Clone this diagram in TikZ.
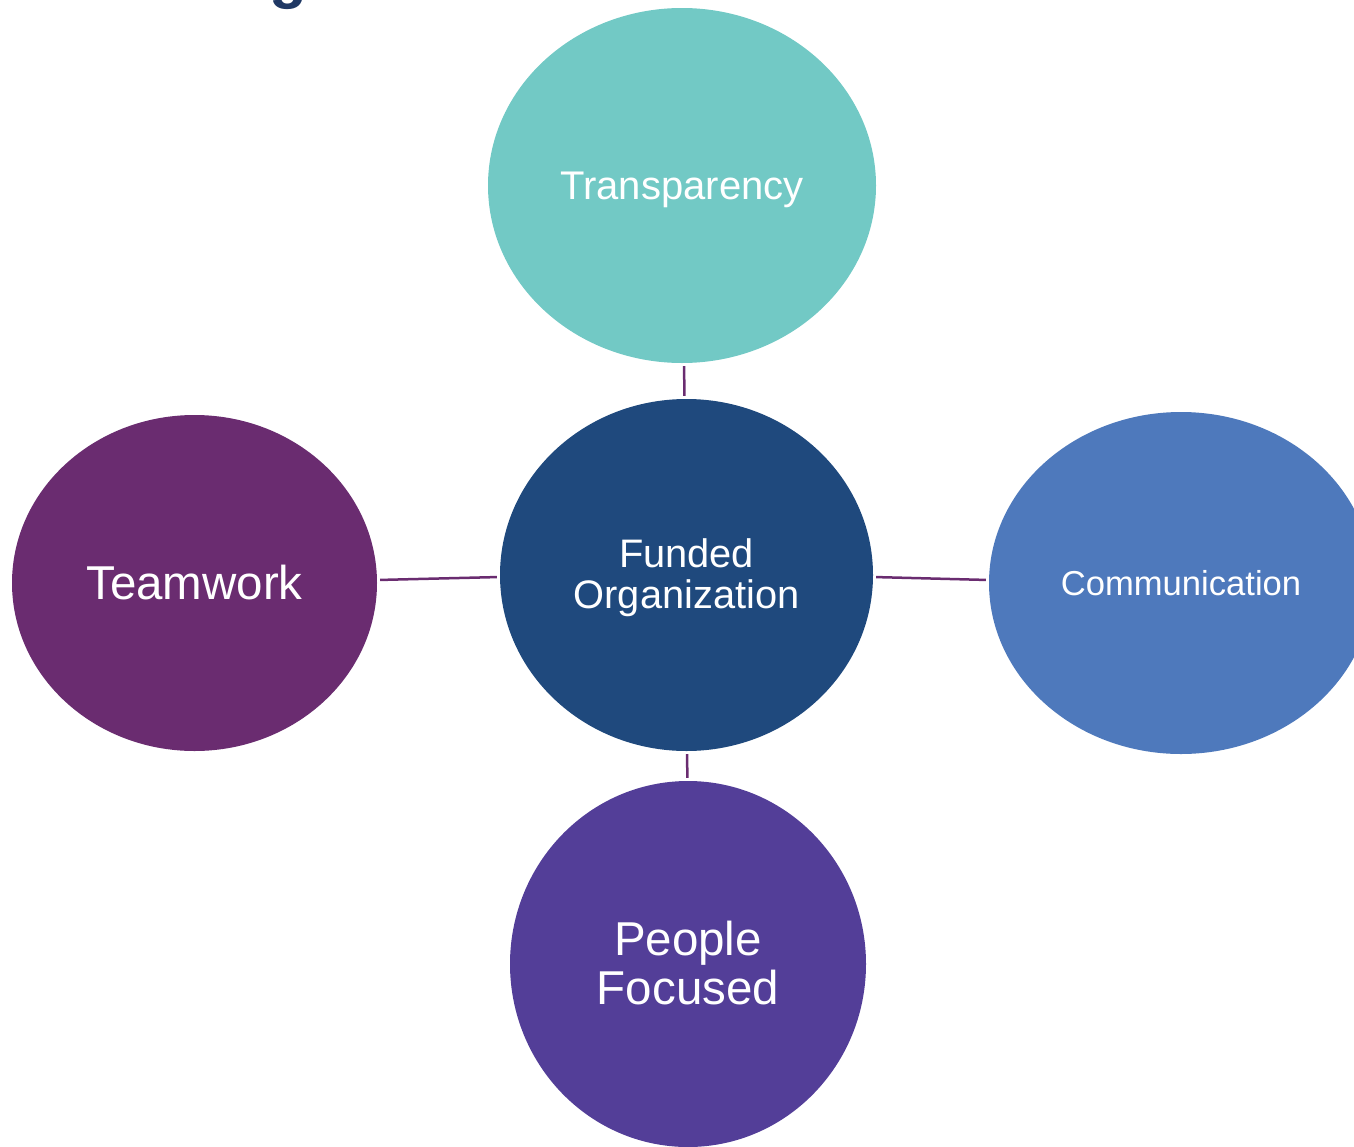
\documentclass[tikz,border=0pt]{standalone}
\usepackage{fontspec}
\setmainfont{Liberation Sans}
\usetikzlibrary{shapes.geometric}
\definecolor{cTeal}{HTML}{72C9C5}
\definecolor{cNavy}{HTML}{1F497D}
\definecolor{cPlum}{HTML}{6A2C70}
\definecolor{cBlue}{HTML}{4E79BC}
\definecolor{cViolet}{HTML}{533E98}
\definecolor{cTitle}{HTML}{1F3864}
\begin{document}
\begin{tikzpicture}[x=1pt,y=-1pt,
  bubble/.style={ellipse, inner sep=0pt},
  label text/.style={text=white, align=center, inner sep=0pt},
  link/.style={draw=cPlum, line width=2.5pt, shorten >=3pt, shorten <=3pt}]
\useasboundingbox (0,0) rectangle (1354,1146);
\node[anchor=base, text=cTitle, font=\fontsize{62}{62}\selectfont\bfseries] (title) at (288,-4) {g};
\node[bubble, fill=cTeal, minimum width=388pt, minimum height=355pt] (tr) at (682,185.5) {};
\node[bubble, fill=cNavy, minimum width=373pt, minimum height=352pt] (fo) at (686.5,575) {};
\node[bubble, fill=cPlum, minimum width=365pt, minimum height=336pt] (tw) at (194.5,583) {};
\node[bubble, fill=cBlue, minimum width=384pt, minimum height=342pt] (cm) at (1181,583) {};
\node[bubble, fill=cViolet, minimum width=356pt, minimum height=366pt] (pf) at (688,964) {};
\node[label text, font=\fontsize{40}{42}\selectfont] (trt) at ([yshift=-4pt]tr.center) {Transparency};
\node[label text, font=\fontsize{39.8}{41}\selectfont] (fot) at ([yshift=-3pt]fo.center) {Funded\\Organization};
\node[label text, font=\fontsize{47.5}{48}\selectfont] (twt) at ([yshift=0pt]tw.center) {Teamwork};
\node[label text, font=\fontsize{34.6}{38}\selectfont] (cmt) at ([yshift=0pt]cm.center) {Communication};
\node[label text, font=\fontsize{47.5}{49}\selectfont] (pft) at ([yshift=1pt]pf.center) {People\\Focused};
\draw[link] (fo) -- (tr);
\draw[link] ([yshift=-2pt]fo.west) -- ([yshift=3pt]tw.east);
\draw[link] ([yshift=-2pt]fo.east) -- ([yshift=3pt]cm.west);
\draw[link] (fo) -- (pf);
\end{tikzpicture}
\end{document}
